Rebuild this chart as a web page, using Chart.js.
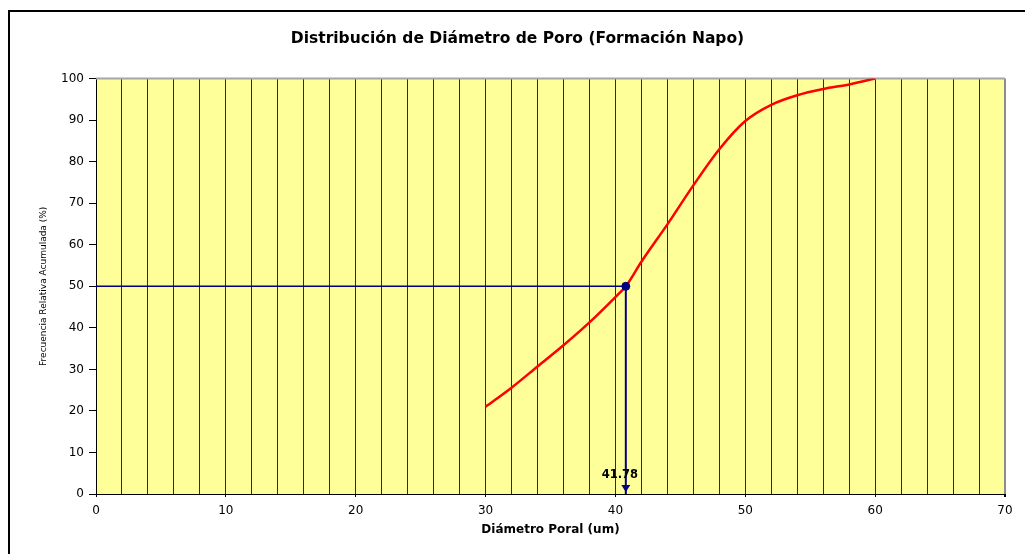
<!DOCTYPE html>
<html lang="es">
<head>
<meta charset="utf-8">
<title>Distribución de Diámetro de Poro</title>
<script src="https://cdn.jsdelivr.net/npm/chart.js@4.4.1/dist/chart.umd.min.js"></script>
<style>
  html, body { margin: 0; padding: 0; background: #ffffff; }
  canvas { display: block; }
</style>
</head>
<body>
<canvas id="grafico" width="1025" height="554"></canvas>
<script>
// datos (diámetro poral en um, frecuencia acumulada en %)
const diametro = [30, 32, 34, 36, 38, 40, 40.8, 42, 44, 46, 48, 50, 52, 54, 56, 58, 60];
const frecuencia = [21, 25.6, 30.7, 35.8, 41.3, 47.4, 50, 55.9, 64.9, 74.3, 83, 89.8, 93.7, 96, 97.5, 98.6, 100];

// punto D50 marcado en el gráfico
const puntoX = [40.8];
const puntoY = [50];
const etiquetaD50 = '41.78';

// ejes
const rangoX = [0, 70];
const rangoY = [0, 100];

document.addEventListener('DOMContentLoaded', function () {
    Chart.defaults.font.family = '"DejaVu Sans", sans-serif';
    Chart.defaults.color = '#000000';

    // fondo amarillo del área y marco exterior
    const fondoGrafico = {
        id: 'fondoGrafico',
        beforeDraw(chart) {
            const { ctx, chartArea: a } = chart;
            ctx.save();
            ctx.fillStyle = '#ffffff';
            ctx.fillRect(0, 0, chart.width, chart.height);
            ctx.fillStyle = '#FFFF99';
            ctx.fillRect(a.left, a.top, a.right - a.left, a.bottom - a.top);
            ctx.strokeStyle = '#000000';
            ctx.lineWidth = 2;
            ctx.strokeRect(9, 11, chart.width + 40, chart.height + 40);
            ctx.restore();
        },
        beforeDatasetsDraw(chart) {
            const { ctx, chartArea: a } = chart;
            ctx.save();
            ctx.strokeStyle = '#A6A6A6';
            ctx.lineWidth = 2;
            ctx.beginPath();
            ctx.moveTo(a.left, a.top);
            ctx.lineTo(a.right, a.top);
            ctx.stroke();
            ctx.restore();
        }
    };

    // punta de flecha y etiqueta del D50
    const flechaD50 = {
        id: 'flechaD50',
        afterDatasetsDraw(chart) {
            const meta = chart.getDatasetMeta(2);
            const p = meta.data[meta.data.length - 1];
            const ctx = chart.ctx;
            ctx.save();
            ctx.fillStyle = '#000080';
            ctx.beginPath();
            ctx.moveTo(p.x, p.y - 2);
            ctx.lineTo(p.x - 4.5, p.y - 9);
            ctx.lineTo(p.x + 4.5, p.y - 9);
            ctx.closePath();
            ctx.fill();
            ctx.fillStyle = '#000000';
            ctx.font = 'bold 11.5px "DejaVu Sans", sans-serif';
            ctx.textAlign = 'center';
            ctx.textBaseline = 'middle';
            ctx.fillText(etiquetaD50, p.x - 6, p.y - 19);
            ctx.restore();
        }
    };

    const curva = diametro.map((x, i) => ({ x: x, y: frecuencia[i] }));
    const lineaH = [{ x: rangoX[0], y: puntoY[0] }, { x: puntoX[0], y: puntoY[0] }];
    const lineaV = [{ x: puntoX[0], y: puntoY[0] }, { x: puntoX[0], y: rangoY[0] }];
    const punto = [{ x: puntoX[0], y: puntoY[0] }];

    new Chart(document.getElementById('grafico'), {
        type: 'scatter',
        data: {
            datasets: [
                {
                    data: punto,
                    pointRadius: 4,
                    pointBackgroundColor: '#000080',
                    pointBorderColor: '#000080',
                    showLine: false,
                    order: 0
                },
                {
                    data: lineaH,
                    showLine: true,
                    borderColor: '#000080',
                    borderWidth: 1.5,
                    pointRadius: 0,
                    order: 1
                },
                {
                    data: lineaV,
                    showLine: true,
                    borderColor: '#000080',
                    borderWidth: 2,
                    pointRadius: 0,
                    order: 2
                },
                {
                    data: curva,
                    showLine: true,
                    borderColor: '#FF0000',
                    borderWidth: 2.5,
                    pointRadius: 0,
                    cubicInterpolationMode: 'monotone',
                    order: 3
                }
            ]
        },
        options: {
            responsive: false,
            animation: false,
            layout: { padding: { left: 30, right: 20, top: 0, bottom: 0 } },
            plugins: {
                legend: { display: false },
                tooltip: { enabled: false },
                title: {
                    display: true,
                    text: 'Distribución de Diámetro de Poro (Formación Napo)',
                    font: { size: 15.5, weight: 'bold' },
                    color: '#000000',
                    padding: { top: 30, bottom: 30 }
                }
            },
            scales: {
                x: {
                    type: 'linear',
                    min: rangoX[0],
                    max: rangoX[1],
                    afterFit: s => { s.height = 60; },
                    ticks: {
                        stepSize: 2,
                        autoSkip: false,
                        maxRotation: 0,
                        padding: 7,
                        font: { size: 12 },
                        color: '#000000',
                        callback: v => (v % 10 === 0 ? v : '')
                    },
                    grid: {
                        color: c => (c.tick && c.tick.value === rangoX[1] ? '#8C8C8C' : '#2B2B2B'),
                        lineWidth: c => (c.tick && c.tick.value === rangoX[1] ? 2 : 1),
                        tickLength: 3,
                        tickColor: c => (c.tick && c.tick.value % 10 === 0 ? '#000000' : 'rgba(0,0,0,0)')
                    },
                    border: { color: '#000000', width: 1 },
                    title: {
                        display: true,
                        text: 'Diámetro Poral (um)',
                        font: { size: 12, weight: 'bold' },
                        color: '#000000',
                        padding: { top: 4, bottom: 17 }
                    }
                },
                y: {
                    min: rangoY[0],
                    max: rangoY[1],
                    afterFit: s => { s.width = 66; },
                    ticks: {
                        stepSize: 10,
                        padding: 5,
                        font: { size: 12 },
                        color: '#000000'
                    },
                    grid: {
                        drawOnChartArea: false,
                        tickLength: 7,
                        tickColor: '#000000'
                    },
                    border: { color: '#000000', width: 1 },
                    title: {
                        display: true,
                        text: 'Frecuencia Relativa Acumulada (%)',
                        font: { size: 9 },
                        color: '#000000',
                        padding: { top: 8, bottom: 0 }
                    }
                }
            }
        },
        plugins: [fondoGrafico, flechaD50]
    });
});
</script>
</body>
</html>
